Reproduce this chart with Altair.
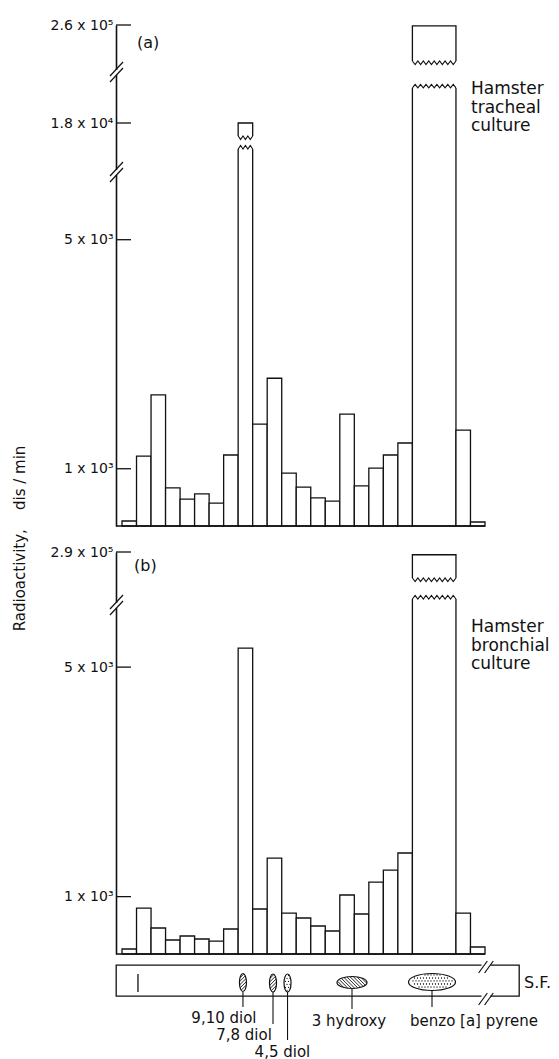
import math
import altair as alt
import pandas as pd

FONT = "DejaVu Sans"
INK = "#111111"

# ---------------- data ----------------
# width of each collected fraction (the benzo[a]pyrene zone is one wide fraction)
fraction_span = [1] * 20 + [3, 1, 1]

tracheal = [87, 1220, 2290, 665, 470, 560, 400, 1240, 18000, 1780, 2580,
            925, 680, 490, 435, 1955, 700, 1010, 1240, 1450, 255000, 1675, 70]
bronchial = [87, 800, 453, 244, 314, 261, 226, 436, 5330, 784, 1672,
             714, 627, 488, 401, 1028, 697, 1254, 1463, 1760, 275000, 714, 122]

ticks_a = [1000, 5000, 18000, 260000]
tick_labels_a = ["1 x 10³", "5 x 10³", "1.8 x 10⁴", "2.6 x 10⁵"]
ticks_b = [1000, 5000, 290000]
tick_labels_b = ["1 x 10³", "5 x 10³", "2.9 x 10⁵"]

# broken value axes (piecewise scales) and where the breaks are
dom_a = [0, 6200, 18000, 22000, 260000]
dom_b = [0, 6100, 290000]
axis_breaks_a = [6200, 22000]
axis_breaks_b = [6100]
bar_breaks_a = [(8, 11600, 14800), (20, 20700, 73700)]
bar_breaks_b = [(20, 33400, 148000)]

# TLC strip (positions in fraction units)
spot_names = ["9,10 diol", "7,8 diol", "4,5 diol", "3 hydroxy", "benzo [a] pyrene"]
spot_pos = [8.33, 10.40, 11.40, 15.84, 21.35]
origin_pos = 1.10
front_break_pos = [24.86, 25.27]

# ---------------- layout ----------------
PX = 14.52                 # pixels per fraction
X_MIN = -6 / PX
W = 403
X_MAX = X_MIN + W / PX
H_A, RNG_A = 516, [501, 146, 98, 46, 0]
H_B, RNG_B = 402, [402, 52, 0]
STRIP_H = 31

xsc = alt.Scale(domain=[X_MIN, X_MAX], nice=False, zero=False)

starts, s = [], 0
for w in fraction_span:
    starts.append(s)
    s += w
ends = [a + w for a, w in zip(starts, fraction_span)]
N_END = ends[-1]


def interp(xs, ys, v):
    for i in range(len(xs) - 1):
        a, b = xs[i], xs[i + 1]
        if min(a, b) <= v <= max(a, b):
            t = (v - a) / (b - a)
            return ys[i] + t * (ys[i + 1] - ys[i])
    return ys[-1]


def zigzag(dom, rng, x0, x1, v, direction, gid):
    p = interp(dom, rng, v)
    n = max(3, int(round((x1 - x0) * PX / 5.5)))
    pts = []
    for k in range(2 * n + 1):
        pk = p + (direction * 3.5 if k % 2 else 0)
        pts.append({"x": x0 + (x1 - x0) * k / (2 * n),
                    "v": interp(rng, dom, pk), "g": gid, "o": k})
    return pts


def panel(vals, dom, rng, height, ticks, tlabels, abreaks, bbreaks,
          tag, tag_xy, note, note_xy, title):
    ysc = alt.Scale(domain=dom, range=rng, nice=False, zero=False)
    expr = "''"
    for t, l in reversed(list(zip(ticks, tlabels))):
        expr = f"datum.value == {t} ? '{l}' : {expr}"
    axis_kw = dict(values=ticks, labelExpr=expr, ticks=False, grid=False,
                   domain=True, domainColor=INK, domainWidth=1.6,
                   labelFontSize=14, labelColor=INK, labelPadding=3,
                   labelFont=FONT)
    if title:
        axis_kw.update(title=title, titleX=-97, titleY=513, titleAngle=270,
                       titleAlign="center", titleBaseline="middle",
                       titleFontSize=15, titleFontWeight="normal",
                       titleColor=INK, titleFont=FONT)
    else:
        axis_kw.update(title=None)
    yaxis = alt.Axis(**axis_kw)

    Y = lambda f: alt.Y(f, scale=ysc, axis=yaxis)
    X = lambda f: alt.X(f, scale=xsc, axis=None)

    bars_df = pd.DataFrame({"x0": starts, "x1": ends, "v": vals,
                            "v2": [0] * len(vals)})
    bars = alt.Chart(bars_df).mark_rect(
        fill="white", stroke=INK, strokeWidth=1.3).encode(
        x=X("x0:Q"), x2="x1:Q", y=Y("v:Q"), y2="v2:Q")

    base_df = pd.DataFrame({"x0": [X_MIN], "x1": [N_END], "v": [0]})
    baseline = alt.Chart(base_df).mark_rule(color=INK, strokeWidth=1.3).encode(
        x=X("x0:Q"), x2="x1:Q", y=Y("v:Q"))

    tick_df = pd.DataFrame({"v": ticks})
    tick_rules = alt.Chart(tick_df).mark_rule(color=INK, strokeWidth=1.3).encode(
        y=Y("v:Q"), x=alt.value(0), x2=alt.value(15))

    br_df = pd.DataFrame({"v": abreaks})
    gap = alt.Chart(br_df).mark_rule(color="white", strokeWidth=4,
                                     yOffset=4, y2Offset=-1).encode(
        y=Y("v:Q"), y2="v:Q", x=alt.value(0))
    slash1 = alt.Chart(br_df).mark_rule(color=INK, strokeWidth=1.2,
                                        yOffset=5, y2Offset=-9).encode(
        y=Y("v:Q"), y2="v:Q", x=alt.value(-6), x2=alt.value(7))
    slash2 = alt.Chart(br_df).mark_rule(color=INK, strokeWidth=1.2,
                                        yOffset=11, y2Offset=-3).encode(
        y=Y("v:Q"), y2="v:Q", x=alt.value(-6), x2=alt.value(7))

    bb_df = pd.DataFrame({"x0": [starts[i] for i, _, _ in bbreaks],
                          "x1": [ends[i] for i, _, _ in bbreaks],
                          "v": [lo for _, lo, _ in bbreaks],
                          "v2": [hi for _, _, hi in bbreaks]})
    cover = alt.Chart(bb_df).mark_rect(fill="white", strokeWidth=0,
                                       xOffset=-2, x2Offset=2).encode(
        x=X("x0:Q"), x2="x1:Q", y=Y("v:Q"), y2="v2:Q")

    pts = []
    for j, (i, lo, hi) in enumerate(bbreaks):
        pts += zigzag(dom, rng, starts[i], ends[i], hi, +1, f"h{j}")
        pts += zigzag(dom, rng, starts[i], ends[i], lo, -1, f"l{j}")
    zz = alt.Chart(pd.DataFrame(pts)).mark_line(color=INK, strokeWidth=1.1).encode(
        x=X("x:Q"), y=Y("v:Q"), detail="g:N", order="o:Q")

    one = pd.DataFrame({"k": [0]})
    tag_t = alt.Chart(one).mark_text(text=tag, align="left", baseline="middle",
                                     fontSize=16, color=INK).encode(
        x=alt.value(tag_xy[0]), y=alt.value(tag_xy[1]))
    note_t = alt.Chart(one).mark_text(text=note, align="left", baseline="top",
                                      fontSize=17, lineHeight=18.5,
                                      color=INK).encode(
        x=alt.value(note_xy[0]), y=alt.value(note_xy[1]))

    return alt.layer(bars, baseline, tick_rules, cover, zz, gap, slash1, slash2,
                     tag_t, note_t).properties(width=W, height=height)


pa = panel(tracheal, dom_a, RNG_A, H_A, ticks_a, tick_labels_a, axis_breaks_a,
           bar_breaks_a, "(a)", (21, 18), ["Hamster", "tracheal", "culture"],
           (355, 56), "Radioactivity,\u00a0\u00a0\u00a0\u00a0dis / min")
pb = panel(bronchial, dom_b, RNG_B, H_B, ticks_b, tick_labels_b, axis_breaks_b,
           bar_breaks_b, "(b)", (18, 14), ["Hamster", "bronchial", "culture"],
           (355, 67), None)


# ---------------- TLC strip ----------------
def ellipse_path(a, b):
    return (f"M{-a:.3f},0A{a:.3f},{b:.3f} 0 1,1 {a:.3f},0"
            f"A{a:.3f},{b:.3f} 0 1,1 {-a:.3f},0Z")


def hatch_path(a, b, step, slope):
    segs = []
    cmax = math.sqrt(b * b + slope * slope * a * a)
    dc = step * math.sqrt(1 + slope * slope)
    c = -cmax + dc / 2
    while c < cmax:
        A = 1 / a ** 2 + slope ** 2 / b ** 2
        B = 2 * slope * c / b ** 2
        C = c ** 2 / b ** 2 - 1
        d = B * B - 4 * A * C
        if d > 0:
            x1 = (-B - math.sqrt(d)) / (2 * A)
            x2 = (-B + math.sqrt(d)) / (2 * A)
            segs.append(f"M{x1:.3f},{slope*x1+c:.3f}L{x2:.3f},{slope*x2+c:.3f}")
        c += dc
    return "".join(segs)


def dots_path(a, b, step, r):
    segs = []
    row = 0
    y = -b + step / 2
    while y < b:
        x = -a + step / 2 + (step / 2 if row % 2 else 0)
        while x < a:
            if (x / a) ** 2 + (y / b) ** 2 < 0.8:
                segs.append(f"M{x-r:.3f},{y:.3f}a{r:.3f},{r:.3f} 0 1,0 {2*r:.3f},0"
                            f"a{r:.3f},{r:.3f} 0 1,0 {-2*r:.3f},0")
            x += step
        y += step
        row += 1
    return "".join(segs)


spot_w = [7, 7, 7, 30, 47]
spot_h = [18, 18, 18, 12, 17]
spot_y = [17.5, 18, 18, 17.5, 17]
spot_kind = ["hatch", "hatch", "dots", "hatch", "dots"]
lead_end = [42, 59, 75, 44, 42]
label_x = [7.02, 8.40, 11.05, 15.63, 24.24]
label_y = [53, 70, 87, 56, 56]

rows = []
for i in range(len(spot_names)):
    m = max(spot_w[i], spot_h[i])
    k = m / 2
    a, b = spot_w[i] / m, spot_h[i] / m
    outline = ellipse_path(a, b)
    if spot_kind[i] == "hatch":
        inner = hatch_path(a * 0.97, b * 0.97, 2.4 / k, -1 if i < 3 else 1)
    else:
        inner = dots_path(a, b, 3.0 / k, 0.6 / k)
    rows.append({"x": spot_pos[i], "py": spot_y[i], "size": m * m,
                 "outline": outline, "inner": inner, "kind": spot_kind[i]})
spots_df = pd.DataFrame(rows)

sysc = alt.Scale(domain=[0, STRIP_H], range=[0, STRIP_H], nice=False, zero=False)
SX = lambda f: alt.X(f, scale=xsc, axis=None)
SY = lambda f: alt.Y(f, scale=sysc, axis=None)

origin_df = pd.DataFrame({"x": [origin_pos], "py": [9], "py2": [27]})
origin = alt.Chart(origin_df).mark_rule(color=INK, strokeWidth=1.3).encode(
    x=SX("x:Q"), y=SY("py:Q"), y2="py2:Q")

lead_df = pd.DataFrame({"x": spot_pos, "py": [s_y + h / 2 for s_y, h in zip(spot_y, spot_h)],
                        "py2": lead_end})
leaders = alt.Chart(lead_df).mark_rule(color=INK, strokeWidth=1.1).encode(
    x=SX("x:Q"), y=SY("py:Q"), y2="py2:Q")

spot_fill = alt.Chart(spots_df).mark_point(
    filled=True, fill="white", stroke=INK, strokeWidth=1.2, opacity=1).encode(
    x=SX("x:Q"), y=SY("py:Q"), shape=alt.Shape("outline:N", scale=None),
    size=alt.Size("size:Q", scale=None))
spot_hatch = alt.Chart(spots_df).transform_filter("datum.kind == 'hatch'").mark_point(
    filled=False, stroke=INK, strokeWidth=0.9, opacity=1).encode(
    x=SX("x:Q"), y=SY("py:Q"), shape=alt.Shape("inner:N", scale=None),
    size=alt.Size("size:Q", scale=None))
spot_dots = alt.Chart(spots_df).transform_filter("datum.kind == 'dots'").mark_point(
    filled=True, fill=INK, strokeWidth=0, opacity=1).encode(
    x=SX("x:Q"), y=SY("py:Q"), shape=alt.Shape("inner:N", scale=None),
    size=alt.Size("size:Q", scale=None))

lab_df = pd.DataFrame({"t": spot_names, "x": label_x, "py": label_y})
labels = alt.Chart(lab_df).mark_text(fontSize=15, color=INK, baseline="middle",
                                     align="center").encode(
    x=SX("x:Q"), y=SY("py:Q"), text="t:N")

edge_df = pd.DataFrame({"x": [front_break_pos[0] - 0.1, front_break_pos[0] - 0.1],
                        "x2": [front_break_pos[1] + 0.1, front_break_pos[1] + 0.1],
                        "py": [0, STRIP_H]})
edge_gap = alt.Chart(edge_df).mark_rule(color="white", strokeWidth=3).encode(
    x=SX("x:Q"), x2="x2:Q", y=SY("py:Q"))
sl = []
for xc in front_break_pos:
    for top, bot in [(-4, 8), (28, 40)]:
        sl.append({"x": xc - 0.3, "x2": xc + 0.3, "py": bot, "py2": top})
sl_df = pd.DataFrame(sl)
edge_sl = alt.Chart(sl_df).mark_rule(color=INK, strokeWidth=1.2).encode(
    x=SX("x:Q"), x2="x2:Q", y=SY("py:Q"), y2="py2:Q")

sf_df = pd.DataFrame({"t": ["S.F."], "x": [27.69], "py": [18]})
sf = alt.Chart(sf_df).mark_text(fontSize=16, color=INK, align="left",
                                baseline="middle").encode(
    x=SX("x:Q"), y=SY("py:Q"), text="t:N")

strip = alt.layer(origin, leaders, spot_fill, spot_hatch, spot_dots, labels,
                  edge_gap, edge_sl, sf).properties(
    width=W, height=STRIP_H,
    view=alt.ViewBackground(stroke=INK, strokeWidth=1.3))

chart = alt.vconcat(pa, pb, strip, spacing=11, bounds="flush").properties(
    padding={"left": 12, "top": 18, "right": 0, "bottom": 0}
).configure(font=FONT).configure_view(stroke=None)

chart.save("out.html", embed_options={"renderer": "svg", "actions": False})
